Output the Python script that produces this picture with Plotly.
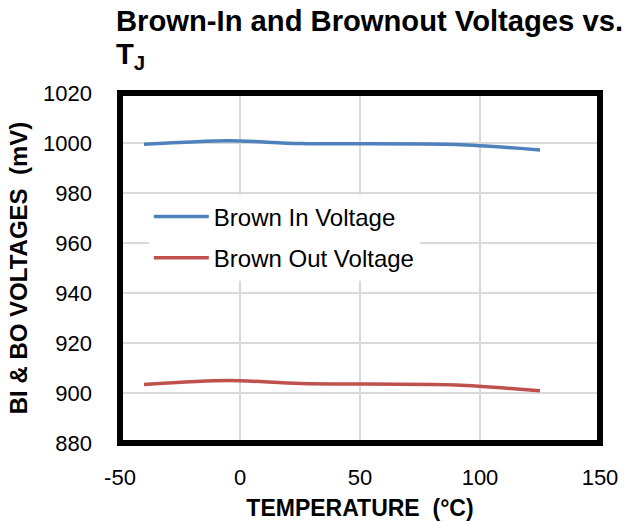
import plotly.graph_objects as go

temps = [-40, -5, 25, 90, 125]
brown_in = [999.5, 1000.9, 999.8, 999.4, 997.2]
brown_out = [903.4, 905.0, 903.8, 903.2, 900.9]

x_ticks = [-50, 0, 50, 100, 150]
x_tick_labels = ["-50", "0", "50", "100", "150"]
y_ticks = [880, 900, 920, 940, 960, 980, 1000, 1020]

fig = go.Figure()
fig.add_trace(go.Scatter(x=temps, y=brown_in, mode="lines", name="Brown In Voltage",
                         legendgroup="a",
                         line=dict(color="#4F81BD", width=3.5, shape="spline", smoothing=0.8)))
fig.add_trace(go.Scatter(x=temps, y=brown_out, mode="lines", name="Brown Out Voltage",
                         legendgroup="b",
                         line=dict(color="#C0504D", width=3.5, shape="spline", smoothing=0.8)))

font = "Liberation Sans, Arial, sans-serif"
fig.update_layout(
    width=626, height=521,
    margin=dict(l=120, r=26, t=93, b=78),
    paper_bgcolor="white", plot_bgcolor="white",
    font=dict(family=font, color="black", size=23),
    showlegend=True,
    legend=dict(x=0.06, y=0.71, xanchor="left", yanchor="top",
                bgcolor="white", font=dict(size=24, family=font),
                itemwidth=55, tracegroupgap=7),
    xaxis=dict(range=[-50, 150], tickvals=x_ticks, ticktext=x_tick_labels,
               showgrid=True, gridcolor="#D9D9D9", automargin=False,
               gridwidth=1.5, zeroline=False, showline=False, ticks="",
               ticklabelstandoff=19, tickfont=dict(size=22),
               title=dict(text="<b>TEMPERATURE&nbsp;&nbsp;(°C)</b>", font=dict(size=23), standoff=10)),
    yaxis=dict(range=[880, 1020], tickvals=y_ticks, showgrid=True, gridcolor="#D9D9D9",
               automargin=False,
               gridwidth=1.5, zeroline=False, showline=False, ticks="",
               ticklabelstandoff=27, tickfont=dict(size=22),
               title=dict(text="<b>BI & BO VOLTAGES&nbsp;&nbsp;(mV)</b>", font=dict(size=24), standoff=8)),
)
fig.add_shape(type="rect", xref="paper", yref="paper", x0=0, y0=0, x1=1, y1=1,
              line=dict(color="black", width=6), layer="above")

fig.add_annotation(text="<b>Brown-In and Brownout Voltages vs.</b>", xref="paper", yref="paper",
                   x=-0.012, y=1.205, xanchor="left", yanchor="middle", showarrow=False,
                   font=dict(size=29.2, family=font, color="black"))
fig.add_annotation(text="<b>T<sub>J</sub></b>", xref="paper", yref="paper",
                   x=-0.012, y=1.105, xanchor="left", yanchor="middle", showarrow=False,
                   font=dict(size=29.2, family=font, color="black"))

fig.write_html("out.html", config={"displayModeBar": False},
               post_script="document.body.style.margin='0';")
